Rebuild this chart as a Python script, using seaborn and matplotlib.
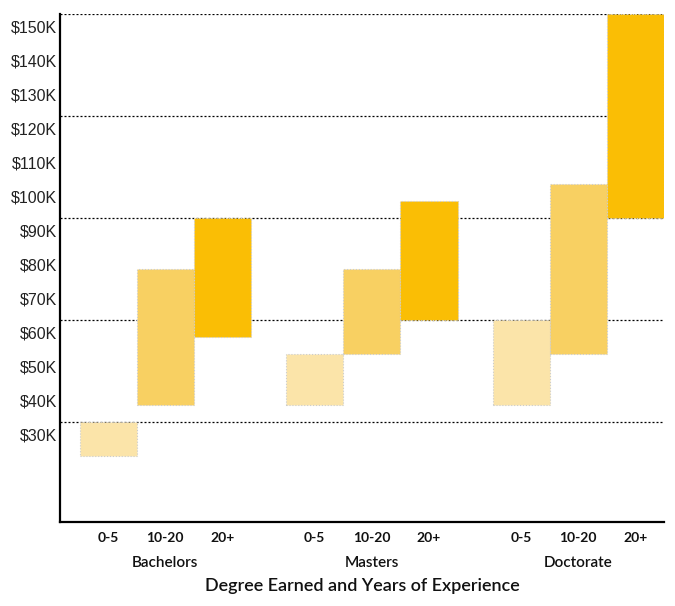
import matplotlib
matplotlib.use("Agg")
import matplotlib.pyplot as plt
import matplotlib.transforms as mtransforms
import pandas as pd
import seaborn as sb

degrees = ['Bachelors', 'Masters', 'Doctorate']
experience = ['0-5', '10-20', '20+']
# salary range in $K per experience level, listed in degree order
low_05 = [25, 40, 40]
high_05 = [35, 55, 65]
low_1020 = [40, 55, 55]
high_1020 = [80, 80, 105]
low_20 = [60, 65, 95]
high_20 = [95, 100, 155]
gridlines = [35, 65, 95, 125, 155]
yticks = [30, 40, 50, 60, 70, 80, 90, 100, 110, 120, 130, 140, 150]
colors = ['#fbe4a9', '#f8d062', '#fabe05']

rows = []
for exp, lows, highs in zip(experience, [low_05, low_1020, low_20], [high_05, high_1020, high_20]):
    for deg, lo, hi in zip(degrees, lows, highs):
        rows.append({'degree': deg, 'exp': exp, 'low': lo, 'high': hi})
df = pd.DataFrame(rows)

sb.set_style('white')
plt.rcParams['font.family'] = ['Lato', 'DejaVu Sans']

fig = plt.figure(figsize=(6.75, 6.06), dpi=100)
fig.subplots_adjust(left=0.0889, right=0.9837, bottom=0.1386, top=0.9769)
ax = fig.add_subplot(111)

ax = sb.barplot(data=df, x='degree', y='high', hue='exp', order=degrees, hue_order=experience,
                palette=colors, width=0.83, errorbar=None, legend=False, saturation=1,
                edgecolor='#cccccc', linestyle=':', linewidth=0.8, ax=ax)

# turn the bars into floating ranges
ticks = []
for cont, lvl in zip(ax.containers, experience):
    sub = df[df.exp == lvl].set_index('degree').loc[degrees]
    for bar, lo, hi in zip(cont, sub.low, sub.high):
        bar.set_y(lo)
        bar.set_height(hi - lo)
        ticks.append((bar.get_x() + bar.get_width() / 2, lvl))
ticks.sort()

for g in gridlines:
    ax.axhline(g, color='black', linestyle=(0, (1.6, 1.6)), lw=0.9, zorder=0.5)

ax.set_xlim(-0.51, 2.415)
ax.set_ylim(5.6, 155)
ax.set_yticks(yticks)
ax.set_yticklabels(['$%dK' % t for t in yticks], family='Liberation Sans', fontsize=11.5, color='#222222')
ax.set_xticks([t[0] for t in ticks])
ax.set_xticklabels([t[1] for t in ticks], fontsize=10, fontweight='bold', color='#111111')
ax.tick_params(axis='x', length=0, pad=7)
ax.tick_params(axis='y', length=0, pad=2)
ax.set_ylabel('')

# labels sit a few pixels above their tick in the original
for tick in ax.yaxis.get_major_ticks():
    tick.label1.set_transform(tick.label1.get_transform() +
                              mtransforms.ScaledTranslation(0, 0.05, fig.dpi_scale_trans))

trans = mtransforms.blended_transform_factory(ax.transData, ax.transAxes)
for i, deg in enumerate(degrees):
    ax.text(i, -0.081, deg, transform=trans, ha='center', va='center',
            fontsize=11, fontweight='semibold', color='#111111')

ax.set_xlabel('Degree Earned and Years of Experience', fontsize=13, fontweight='semibold', color='#111111')
ax.xaxis.set_label_coords(0.5, -0.126)
ax.xaxis.label.set_va('center')

sb.despine(ax=ax)
for s in ['left', 'bottom']:
    ax.spines[s].set_color('black')
    ax.spines[s].set_linewidth(1.6)

plt.savefig('out.png', dpi=100)
